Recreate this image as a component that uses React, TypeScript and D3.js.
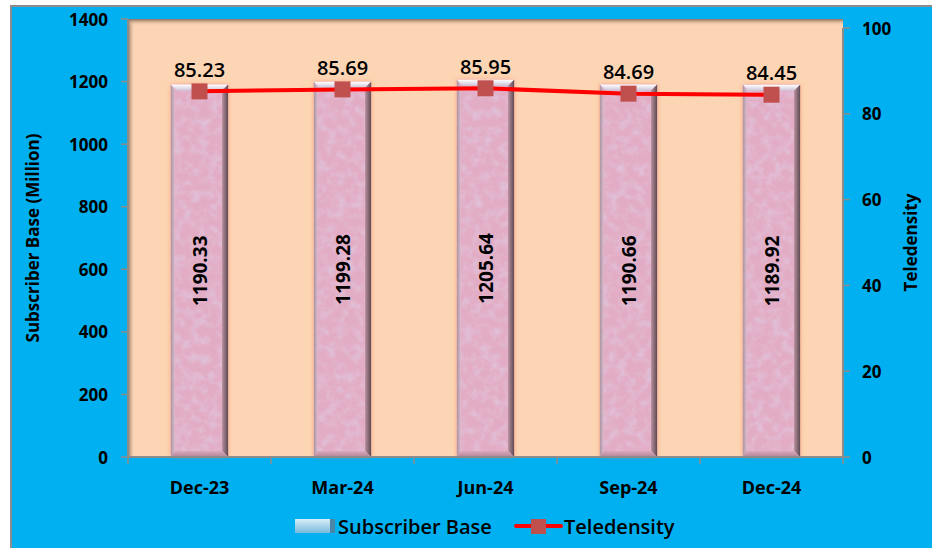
import * as d3 from "d3";

const width = 932;
const height = 548;
const margin = { top: 19, right: 89, bottom: 91, left: 128 };

const categories = ["Dec-23", "Mar-24", "Jun-24", "Sep-24", "Dec-24"];
const subscriberBase = [1190.33, 1199.28, 1205.64, 1190.66, 1189.92];
const teledensity = [85.23, 85.69, 85.95, 84.69, 84.45];
const leftTicks = [0, 200, 400, 600, 800, 1000, 1200, 1400];
const rightTicks = [0, 20, 40, 60, 80, 100];

const font = "'Open Sans', 'Noto Sans', sans-serif";

const App = () => {
  const x0 = margin.left;
  const x1 = width - margin.right;
  const yBottom = height - margin.bottom;

  const xScale = d3.scaleBand().domain(categories).range([x0, x1]).paddingInner(0.6).paddingOuter(0.3);
  const xBand = d3.scaleBand().domain(categories).range([x0, x1]);
  const yLeft = d3.scaleLinear().domain([0, 1400]).range([yBottom, margin.top]);
  // secondary axis in the 3D chart sits a little lower at the top
  const yRight = d3.scaleLinear().domain([0, 100]).range([yBottom, 28]);

  const line = d3
    .line<number>()
    .x((_, i) => xBand(categories[i])! + xBand.bandwidth() / 2)
    .y((d) => yRight(d));

  const bw = xScale.bandwidth();

  return (
    <svg width={width} height={height} style={{ position: "absolute", left: 0, top: 0 }}>
      <defs>
        <filter id="tex" x="0" y="0" width="1" height="1">
          <feTurbulence type="fractalNoise" baseFrequency="0.11" numOctaves="3" seed="7" result="n" />
          <feColorMatrix
            in="n"
            type="matrix"
            values="0 0 0 0 0.74  0 0 0 0 0.66  0 0 0 0 0.84  1.1 0 0 0 -0.45"
            result="c"
          />
          <feComposite in="c" in2="SourceGraphic" operator="in" result="t" />
          <feMerge>
            <feMergeNode in="SourceGraphic" />
            <feMergeNode in="t" />
          </feMerge>
        </filter>
        <filter id="glow" x="-20%" y="-5%" width="140%" height="110%">
          <feDropShadow dx="0" dy="0" stdDeviation="2" floodColor="#ff7a50" floodOpacity="0.6" />
        </filter>
        <linearGradient id="wallLeft" x1="0" x2="1" y1="0" y2="0">
          <stop offset="0" stopColor="#8a6e5c" />
          <stop offset="1" stopColor="#fcd5b4" stopOpacity="0" />
        </linearGradient>
        <linearGradient id="wallTop" x1="0" x2="0" y1="0" y2="1">
          <stop offset="0" stopColor="#8a6e5c" />
          <stop offset="1" stopColor="#fcd5b4" stopOpacity="0" />
        </linearGradient>
        <linearGradient id="bevelTop" x1="0" x2="0" y1="0" y2="1">
          <stop offset="0" stopColor="#ffffff" />
          <stop offset="1" stopColor="#cdc3d6" />
        </linearGradient>
        <linearGradient id="bevelRight" x1="0" x2="1" y1="0" y2="0">
          <stop offset="0" stopColor="#b8909e" />
          <stop offset="1" stopColor="#5e4a52" />
        </linearGradient>
        <linearGradient id="bevelLeft" x1="0" x2="1" y1="0" y2="0">
          <stop offset="0" stopColor="#9c8c98" />
          <stop offset="1" stopColor="#dcbfd0" />
        </linearGradient>
        <linearGradient id="bevelBottom" x1="0" x2="0" y1="0" y2="1">
          <stop offset="0" stopColor="#d9a9bc" />
          <stop offset="1" stopColor="#b48496" />
        </linearGradient>
        <linearGradient id="legBar" x1="0" x2="0" y1="0" y2="1">
          <stop offset="0" stopColor="#d8effa" />
          <stop offset="1" stopColor="#79b9dc" />
        </linearGradient>
      </defs>

      {/* outer chart area */}
      <rect x={11} y={6} width={width} height={height} fill="#00b0f0" stroke="#8c8c8c" strokeWidth={2} />

      {/* back wall */}
      <rect x={x0} y={margin.top} width={x1 - x0} height={yBottom - margin.top} fill="#fcd5b4" />
      <rect x={x0} y={margin.top} width={7} height={yBottom - margin.top} fill="url(#wallLeft)" />
      <rect x={x0} y={margin.top} width={x1 - x0} height={7} fill="url(#wallTop)" />

      {/* bars */}
      {subscriberBase.map((v, i) => {
        const bx = xScale(categories[i])!;
        const by = yLeft(v);
        const bh = yBottom - by;
        const e = 6;
        return (
          <g key={i}>
            <rect x={bx} y={by} width={bw} height={bh} fill="#e2acc4" filter="url(#glow)" />
            <rect x={bx} y={by} width={bw} height={bh} fill="#e2acc4" filter="url(#tex)" />
            <polygon
              points={`${bx},${by} ${bx + bw},${by} ${bx + bw - e},${by + e} ${bx + e},${by + e}`}
              fill="url(#bevelTop)"
            />
            <polygon
              points={`${bx},${by} ${bx + 4},${by + e} ${bx + 4},${yBottom - e} ${bx},${yBottom}`}
              fill="url(#bevelLeft)"
              opacity={0.8}
            />
            <polygon
              points={`${bx + bw},${by} ${bx + bw - e},${by + e} ${bx + bw - e},${yBottom - e} ${bx + bw},${yBottom}`}
              fill="url(#bevelRight)"
            />
            <polygon
              points={`${bx},${yBottom} ${bx + 4},${yBottom - e} ${bx + bw - e},${yBottom - e} ${bx + bw},${yBottom}`}
              fill="url(#bevelBottom)"
            />
            <text
              transform={`translate(${bx + bw / 2},${(by + yBottom) / 2}) rotate(-90)`}
              textAnchor="middle"
              dominantBaseline="central"
              fontFamily={font}
              fontWeight="bold"
              fontSize={19}
              fill="#000"
            >
              {v.toFixed(2)}
            </text>
          </g>
        );
      })}

      {/* axes lines */}
      <line x1={x0} x2={x0} y1={margin.top} y2={yBottom} stroke="#8c8c8c" strokeWidth={2} />
      <line x1={x1} x2={x1} y1={28} y2={yBottom} stroke="#8c8c8c" strokeWidth={2} />
      <line x1={x0} x2={x1} y1={yBottom} y2={yBottom} stroke="#8c8c8c" strokeWidth={2} />

      {/* left axis */}
      {leftTicks.map((t) => (
        <g key={t}>
          <line x1={x0 - 7} x2={x0} y1={yLeft(t)} y2={yLeft(t)} stroke="#8c8c8c" strokeWidth={1.5} />
          <text
            x={x0 - 20}
            y={yLeft(t)}
            textAnchor="end"
            dominantBaseline="central"
            fontFamily={font}
            fontWeight="bold"
            fontSize={17}
          >
            {t}
          </text>
        </g>
      ))}
      <text
        transform={`translate(32,${(margin.top + yBottom) / 2}) rotate(-90)`}
        textAnchor="middle"
        dominantBaseline="central"
        fontFamily={font}
        fontWeight="bold"
        fontSize={17}
      >
        Subscriber Base (Million)
      </text>

      {/* right axis */}
      {rightTicks.map((t) => (
        <g key={t}>
          <line x1={x1} x2={x1 + 7} y1={yRight(t)} y2={yRight(t)} stroke="#8c8c8c" strokeWidth={1.5} />
          <text
            x={x1 + 19}
            y={yRight(t)}
            textAnchor="start"
            dominantBaseline="central"
            fontFamily={font}
            fontWeight="bold"
            fontSize={17}
          >
            {t}
          </text>
        </g>
      ))}
      <text
        transform={`translate(910,${(28 + yBottom) / 2}) rotate(-90)`}
        textAnchor="middle"
        dominantBaseline="central"
        fontFamily={font}
        fontWeight="bold"
        fontSize={17}
      >
        Teledensity
      </text>

      {/* x axis ticks and labels */}
      {categories.map((c, i) => (
        <g key={c}>
          <line
            x1={xBand(c)!}
            x2={xBand(c)!}
            y1={yBottom}
            y2={yBottom + 7}
            stroke="#8c8c8c"
            strokeWidth={1.5}
          />
          {i === categories.length - 1 && (
            <line x1={x1} x2={x1} y1={yBottom} y2={yBottom + 7} stroke="#8c8c8c" strokeWidth={1.5} />
          )}
          <text
            x={xBand(c)! + xBand.bandwidth() / 2}
            y={487}
            textAnchor="middle"
            dominantBaseline="central"
            fontFamily={font}
            fontWeight="bold"
            fontSize={18}
          >
            {c}
          </text>
        </g>
      ))}

      {/* teledensity line */}
      <path d={line(teledensity)!} fill="none" stroke="#ff0000" strokeWidth={4} />
      {teledensity.map((v, i) => {
        const cx = xBand(categories[i])! + xBand.bandwidth() / 2;
        const cy = yRight(v);
        return (
          <g key={i}>
            <rect x={cx - 8} y={cy - 8} width={16} height={16} fill="#c0504d" />
            <text
              x={cx}
              y={cy - 22}
              textAnchor="middle"
              dominantBaseline="central"
              fontFamily={font}
              fontSize={20}
              fontWeight={600}
            >
              {v.toFixed(2)}
            </text>
          </g>
        );
      })}

      {/* legend */}
      <g>
        <rect x={295} y={519} width={40} height={14} fill="url(#legBar)" />
        <polygon points="330,519 335,519 335,533 330,533" fill="#4a86a8" />
        <text x={338} y={526} dominantBaseline="central" fontFamily={font} fontSize={20} fontWeight={600}>
          Subscriber Base
        </text>
        <line x1={516} x2={561} y1={526} y2={526} stroke="#ff0000" strokeWidth={4} strokeLinecap="round" />
        <rect x={531} y={519} width={15} height={15} fill="#c0504d" />
        <text x={564} y={526} dominantBaseline="central" fontFamily={font} fontSize={20} fontWeight={600}>
          Teledensity
        </text>
      </g>
    </svg>
  );
};

export default App;
